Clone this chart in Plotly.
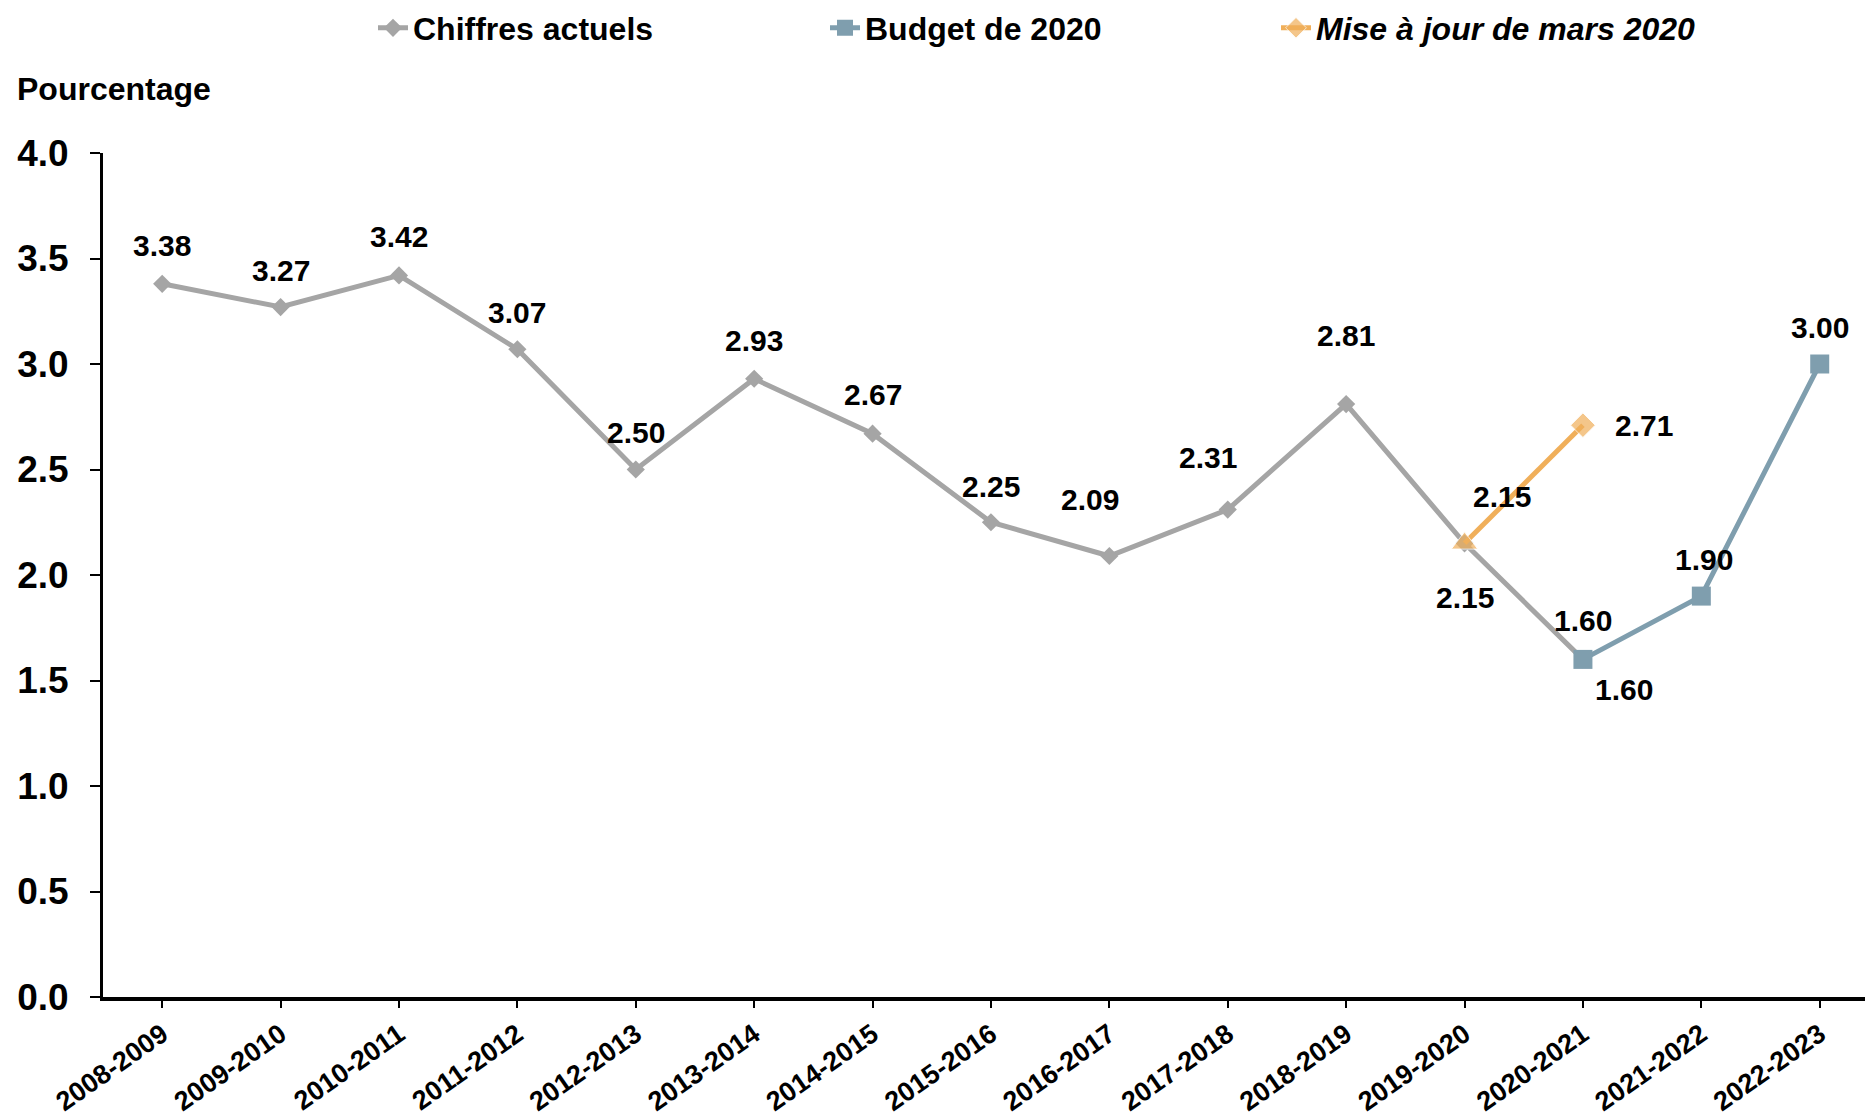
import plotly.graph_objects as go

categories = ["2008-2009", "2009-2010", "2010-2011", "2011-2012", "2012-2013",
              "2013-2014", "2014-2015", "2015-2016", "2016-2017", "2017-2018",
              "2018-2019", "2019-2020", "2020-2021", "2021-2022", "2022-2023"]

actual_x = categories[:13]
actual_y = [3.38, 3.27, 3.42, 3.07, 2.50, 2.93, 2.67, 2.25, 2.09, 2.31, 2.81, 2.15, 1.60]

budget_x = ["2020-2021", "2021-2022", "2022-2023"]
budget_y = [1.60, 1.90, 3.00]

# listed so the diamond comes first (legend symbol)
update_x = ["2020-2021", "2019-2020"]
update_y = [2.71, 2.15]

names = ["Chiffres actuels", "Budget de 2020", "Mise à jour de mars 2020"]
y_ticks = [0.0, 0.5, 1.0, 1.5, 2.0, 2.5, 3.0, 3.5, 4.0]

# label pixel offsets (style)
actual_off = [(0, -38), (0, -37), (0, -39), (0, -37), (0, -37), (0, -38), (0, -39),
              (0, -36), (-19, -57), (-20, -52), (0, -69), (0, 54), (0, -39)]
budget_off = [(41, 30), (3, -37), (0, -37)]
update_off = [(61, 0), (37, -47)]

GRAY = "#A5A5A5"
BLUE = "#7F9EAE"
ORANGE = "#F0AF5A"
FONT = "Liberation Sans, Arial, sans-serif"

W, H = 1865, 1111  # page body has an 8px margin

fig = go.Figure()
fig.add_trace(go.Scatter(x=actual_x, y=actual_y, mode="lines+markers", name=names[0],
                         line=dict(color=GRAY, width=5),
                         marker=dict(symbol="diamond", size=14, color=GRAY),
                         legend="legend"))
fig.add_trace(go.Scatter(x=budget_x, y=budget_y, mode="lines+markers", name=names[1],
                         line=dict(color=BLUE, width=5),
                         marker=dict(symbol="square", size=19, color=BLUE),
                         legend="legend2"))
fig.add_trace(go.Scatter(x=update_x, y=update_y, mode="lines+markers",
                         name="<i>" + names[2] + "</i>",
                         line=dict(color=ORANGE, width=5),
                         marker=dict(symbol=["diamond", "triangle-up"], size=[19, 23], color=ORANGE),
                         legend="legend3"))

def add_labels(xs, ys, offs):
    for xv, yv, (dx, dy) in zip(xs, ys, offs):
        fig.add_annotation(x=xv, y=yv, xref="x", yref="y", text=f"{yv:.2f}",
                           showarrow=False, xshift=dx, yshift=-dy,
                           font=dict(family=FONT, size=30, color="black", weight="bold"))

add_labels(actual_x, actual_y, actual_off)
add_labels(budget_x, budget_y, budget_off)
add_labels(update_x, update_y, update_off)

legend_common = dict(orientation="h", yref="container", xref="container", y=1 - 20 / H,
                     yanchor="middle", xanchor="left", bgcolor="rgba(0,0,0,0)",
                     font=dict(family=FONT, size=32, color="black", weight="bold"))

fig.update_layout(
    width=W, height=H,
    margin=dict(l=95, r=0, t=145, b=122),
    plot_bgcolor="white", paper_bgcolor="white",
    showlegend=True,
    font=dict(family=FONT, color="black"),
    title=dict(text="Pourcentage", x=9 / W, xanchor="left", y=1 - 81 / H, yanchor="middle",
               xref="container", yref="container",
               font=dict(family=FONT, size=32, color="black", weight="bold")),
    legend=dict(x=365 / W, **legend_common),
    legend2=dict(x=817 / W, **legend_common),
    legend3=dict(x=1268 / W, **legend_common),
    xaxis=dict(type="category", categoryorder="array", categoryarray=categories,
               range=[-0.5, 14.45], showgrid=False, showline=True, linecolor="black",
               linewidth=4, ticks="outside", ticklen=7, tickwidth=2, tickcolor="black",
               tickangle=-35, automargin=False,
               tickfont=dict(family=FONT, size=27, color="black", weight="bold")),
    yaxis=dict(range=[0, 4], tickvals=y_ticks, ticktext=[f"{v:.1f}" for v in y_ticks],
               showgrid=False, zeroline=False, showline=True, linecolor="black", linewidth=3,
               ticks="outside", ticklen=10, tickwidth=2, tickcolor="black",
               ticklabelstandoff=14, automargin=False,
               tickfont=dict(family=FONT, size=37, color="black", weight="bold")),
)

fig.write_html("out.html")
